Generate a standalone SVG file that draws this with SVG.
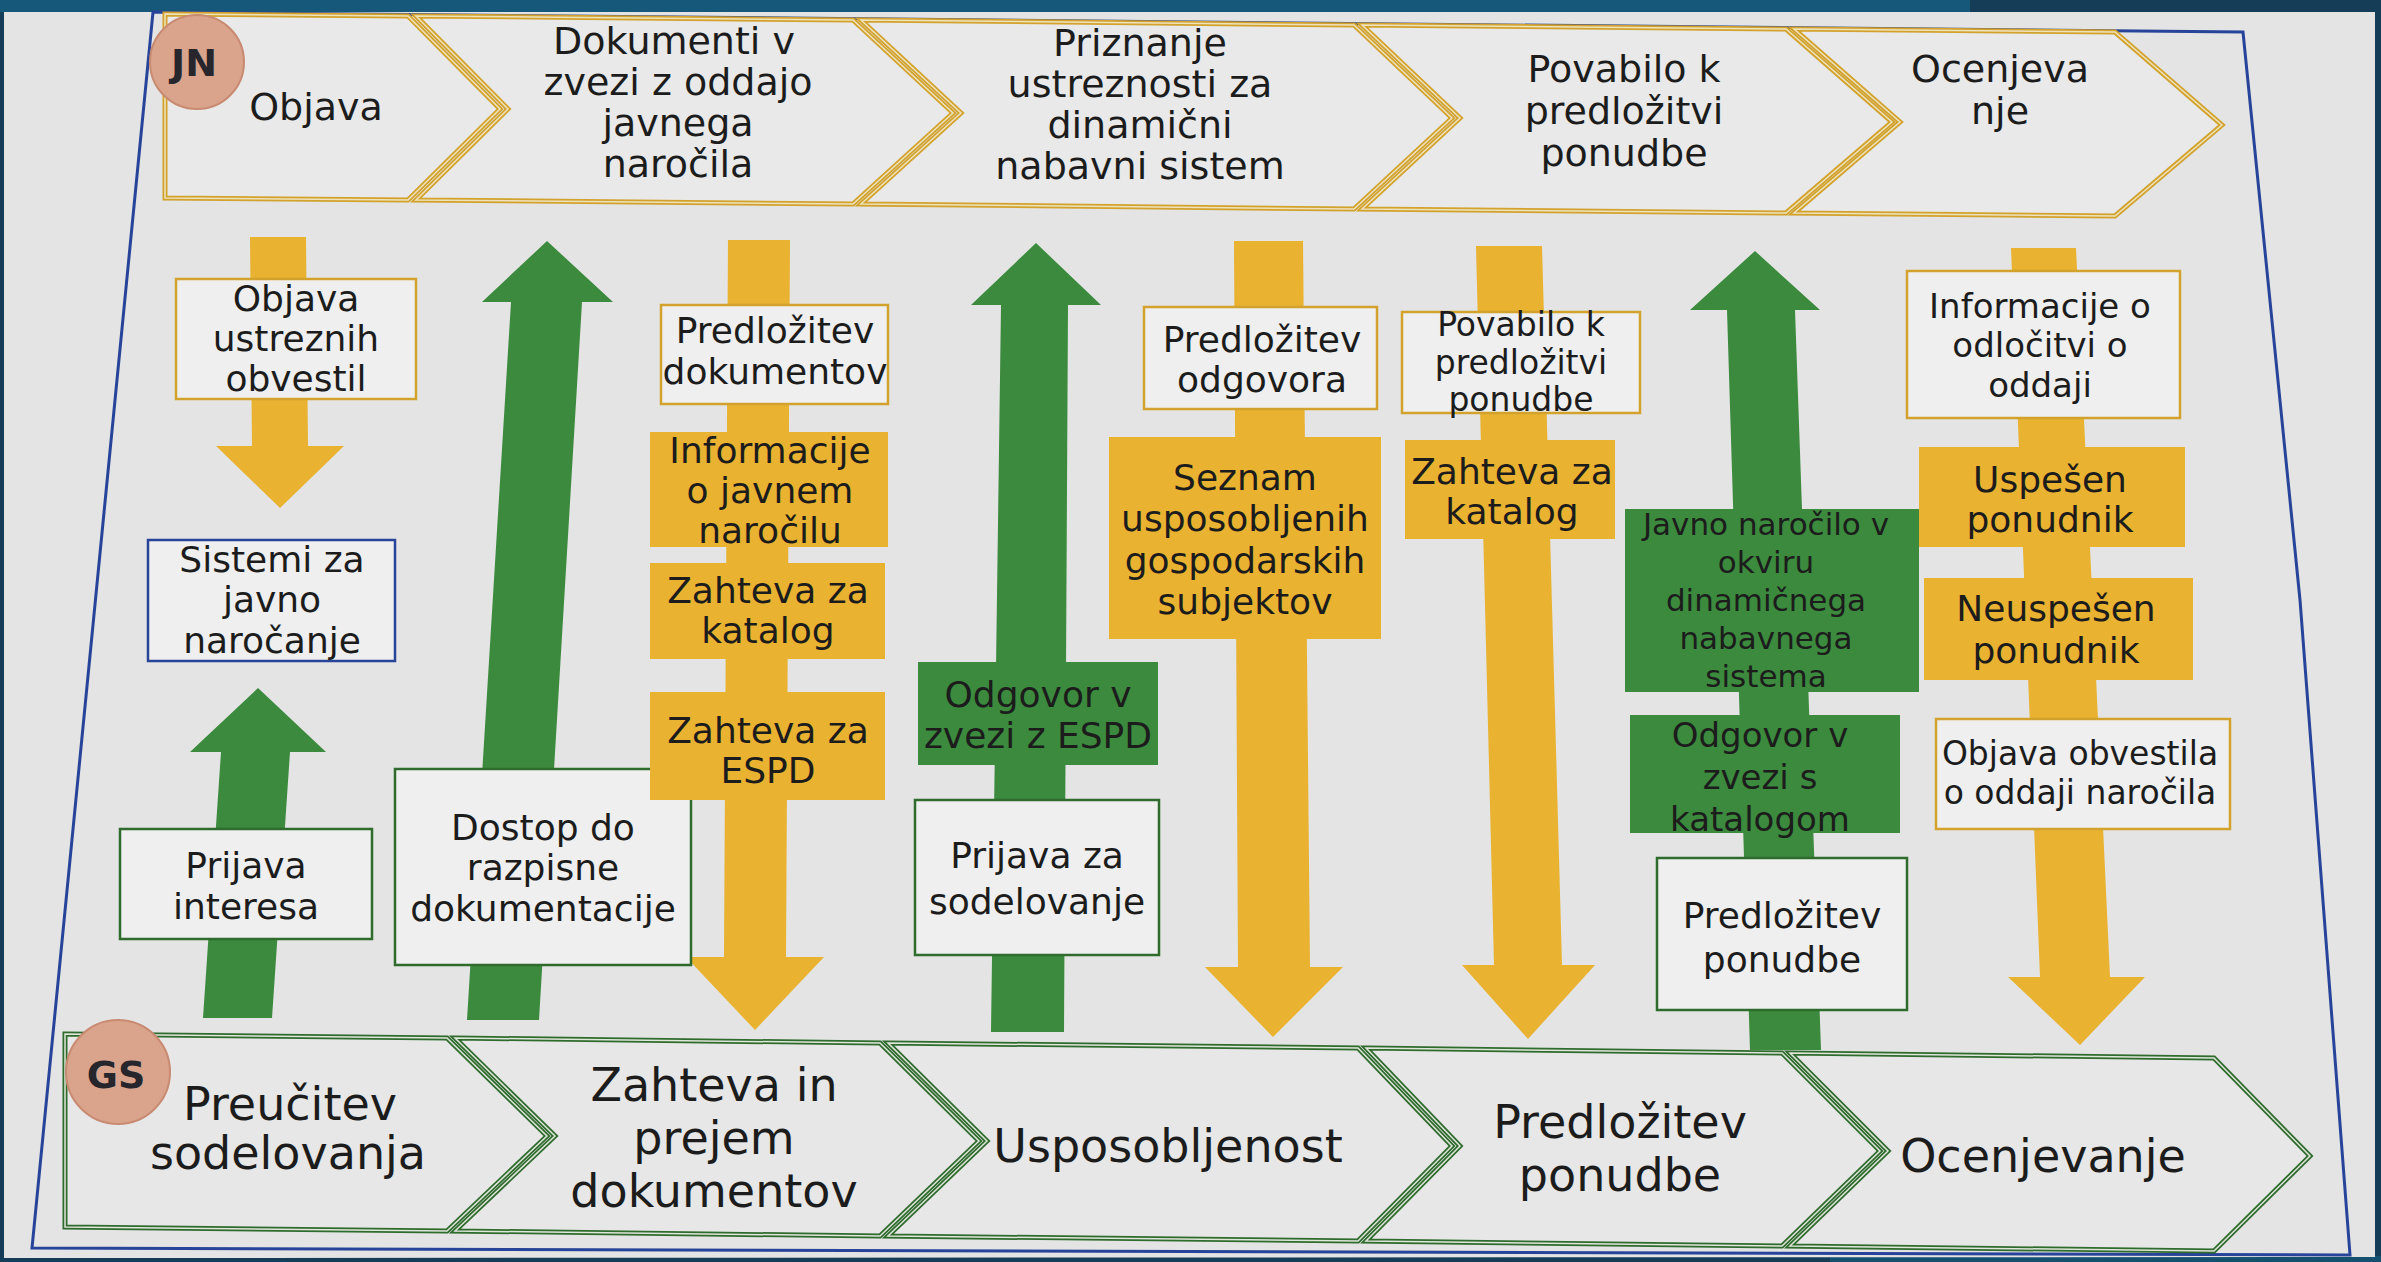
<svg xmlns="http://www.w3.org/2000/svg" width="2381" height="1262" viewBox="0 0 2381 1262">
<style>
  text { font-family: "DejaVu Sans", "Verdana", sans-serif; fill: #1c1c1c; text-anchor: middle; }
  .top { font-size: 38px; }
  .bot { font-size: 46px; }
  .b36 { font-size: 36px; }
  .b34 { font-size: 34px; }
  .b33 { font-size: 33px; }
  .b31 { font-size: 31px; }
  .circ { font-weight: bold; font-size: 38px; fill: #26262c; }
  .chevY { fill: #e8e9e8; stroke: #d2a22c; stroke-width: 5; stroke-linejoin: miter; }
  .chevYi { fill: none; stroke: #efe3bd; stroke-width: 1.5; }
  .chevG { fill: #e6e7e6; stroke: #2f6b2d; stroke-width: 5; stroke-linejoin: miter; }
  .chevGi { fill: none; stroke: #dfe6da; stroke-width: 1.5; }
  .wY { fill: #eeefee; stroke: #d2a22c; stroke-width: 2.5; }
  .wG { fill: #eeefee; stroke: #2f6b2d; stroke-width: 2.5; }
  .wB { fill: #eeefee; stroke: #27449a; stroke-width: 2.5; }
  .fY { fill: #e9b230; }
  .fG { fill: #3b8a3d; }
  .aY { fill: #e9b230; }
  .aG { fill: #3b8a3d; }
  .circle { fill: #d9a38c; stroke: #c98a72; stroke-width: 2; }
</style>

<!-- photo background / paper -->
<rect x="0" y="0" width="2381" height="1262" fill="#163d58"/>
<rect x="0" y="0" width="1970" height="12" fill="#15587a"/>
<rect x="1830" y="1256" width="551" height="6" fill="#15506e"/>
<polygon points="4,12 2375,12 2375,1257 4,1258" fill="#e3e4e3"/>
<polygon points="153,12 2243,32 2300,600 2350,1255 32,1248" fill="none" stroke="#27449a" stroke-width="3"/>

<!-- connectors: arrows -->
<g id="connectors">
  <polygon class="aY" points="250,237 306,237 308,446 344,446 280,508 216,446 252,446"/>
  <polygon class="aG" points="258,688 326,752 290,752 272,1018 203,1018 221,752 190,752"/>
  <polygon class="aG" points="547,241 613,302 582,302 539,1020 467,1020 511,302 482,302"/>
  <polygon class="aY" points="728,240 790,240 786,957 824,957 755,1030 686,957 724,957"/>
  <polygon class="aG" points="1036,243 1101,305 1068,305 1064,1032 991,1032 1001,305 971,305"/>
  <polygon class="aY" points="1234,241 1303,241 1310,967 1343,967 1273,1037 1205,967 1238,967"/>
  <polygon class="aY" points="1476,246 1542,246 1562,965 1595,965 1528,1039 1462,965 1494,965"/>
  <polygon class="aG" points="1755,251 1820,310 1795,310 1821,1050 1750,1050 1727,310 1690,310"/>
  <polygon class="aY" points="2011,248 2076,248 2110,977 2145,977 2080,1045 2008,977 2040,977"/>
</g>

<!-- JN row -->
<g id="jn-objava">
  <polygon class="chevY" points="165,14 408,16 500,109 408,200 165,198"/>
  <polygon class="chevYi" points="165,14 408,16 500,109 408,200 165,198"/>
  <text class="top" x="316" y="120">Objava</text>
</g>
<g id="jn-dokumenti">
  <polygon class="chevY" points="416,16 853,20 953,113 853,204 416,200 508,109"/>
  <polygon class="chevYi" points="416,16 853,20 953,113 853,204 416,200 508,109"/>
  <text class="top" x="674" y="54">Dokumenti  v</text>
  <text class="top" x="678" y="95">zvezi z oddajo</text>
  <text class="top" x="678" y="136">javnega</text>
  <text class="top" x="678" y="177">naročila</text>
</g>
<g id="jn-priznanje">
  <polygon class="chevY" points="861,20 1354,25 1452,118 1354,209 861,204 961,113"/>
  <polygon class="chevYi" points="861,20 1354,25 1452,118 1354,209 861,204 961,113"/>
  <text class="top" x="1140" y="56">Priznanje</text>
  <text class="top" x="1140" y="97">ustreznosti za</text>
  <text class="top" x="1140" y="138">dinamični</text>
  <text class="top" x="1140" y="179">nabavni sistem</text>
</g>
<g id="jn-povabilo">
  <polygon class="chevY" points="1362,25 1786,29 1892,122 1786,213 1362,209 1460,118"/>
  <polygon class="chevYi" points="1362,25 1786,29 1892,122 1786,213 1362,209 1460,118"/>
  <text class="top" x="1624" y="82">Povabilo k</text>
  <text class="top" x="1624" y="124">predložitvi</text>
  <text class="top" x="1624" y="166">ponudbe</text>
</g>
<g id="jn-ocenjevanje">
  <polygon class="chevY" points="1794,29 2115,32 2222,125 2115,216 1794,213 1900,122"/>
  <polygon class="chevYi" points="1794,29 2115,32 2222,125 2115,216 1794,213 1900,122"/>
  <text class="top" x="2000" y="82">Ocenjeva</text>
  <text class="top" x="2000" y="124">nje</text>
</g>
<g id="jn-badge">
  <circle class="circle" cx="197" cy="62" r="47"/>
  <text class="circ" x="194" y="76">JN</text>
</g>

<!-- GS row -->
<g id="gs-preucitev">
  <polygon class="chevG" points="65,1034 447,1038 547,1136 447,1231 65,1227"/>
  <polygon class="chevGi" points="65,1034 447,1038 547,1136 447,1231 65,1227"/>
  <text class="bot" x="290" y="1120">Preučitev</text>
  <text class="bot" x="288" y="1169">sodelovanja</text>
</g>
<g id="gs-zahteva">
  <polygon class="chevG" points="455,1038 880,1043 979,1141 880,1236 455,1231 555,1136"/>
  <polygon class="chevGi" points="455,1038 880,1043 979,1141 880,1236 455,1231 555,1136"/>
  <text class="bot" x="714" y="1101">Zahteva in</text>
  <text class="bot" x="714" y="1154">prejem</text>
  <text class="bot" x="714" y="1207">dokumentov</text>
</g>
<g id="gs-usposobljenost">
  <polygon class="chevG" points="888,1043 1358,1048 1452,1146 1358,1241 888,1236 987,1141"/>
  <polygon class="chevGi" points="888,1043 1358,1048 1452,1146 1358,1241 888,1236 987,1141"/>
  <text class="bot" x="1168" y="1162">Usposobljenost</text>
</g>
<g id="gs-predlozitev">
  <polygon class="chevG" points="1366,1048 1782,1053 1880,1151 1782,1246 1366,1241 1460,1146"/>
  <polygon class="chevGi" points="1366,1048 1782,1053 1880,1151 1782,1246 1366,1241 1460,1146"/>
  <text class="bot" x="1620" y="1138">Predložitev</text>
  <text class="bot" x="1620" y="1191">ponudbe</text>
</g>
<g id="gs-ocenjevanje">
  <polygon class="chevG" points="1790,1053 2214,1058 2310,1156 2214,1251 1790,1246 1888,1151"/>
  <polygon class="chevGi" points="1790,1053 2214,1058 2310,1156 2214,1251 1790,1246 1888,1151"/>
  <text class="bot" x="2043" y="1172">Ocenjevanje</text>
</g>
<g id="gs-badge">
  <circle class="circle" cx="118" cy="1072" r="52"/>
  <text class="circ" x="116" y="1088">GS</text>
</g>

<!-- column nodes -->
<g id="objava-obvestil">
  <rect class="wY" x="176" y="279" width="240" height="120"/>
  <text class="b36" x="296" y="311">Objava</text>
  <text class="b36" x="296" y="351">ustreznih</text>
  <text class="b36" x="296" y="391">obvestil</text>
</g>
<g id="sistemi">
  <rect class="wB" x="148" y="540" width="247" height="121"/>
  <text class="b36" x="272" y="572">Sistemi za</text>
  <text class="b36" x="272" y="612">javno</text>
  <text class="b36" x="272" y="653">naročanje</text>
</g>
<g id="prijava-interesa">
  <rect class="wG" x="120" y="829" width="252" height="110"/>
  <text class="b36" x="246" y="878">Prijava</text>
  <text class="b36" x="246" y="919">interesa</text>
</g>
<g id="dostop">
  <rect class="wG" x="395" y="769" width="296" height="196"/>
  <text class="b36" x="543" y="840">Dostop do</text>
  <text class="b36" x="543" y="880">razpisne</text>
  <text class="b36" x="543" y="921">dokumentacije</text>
</g>
<g id="predlozitev-dokumentov">
  <rect class="wY" x="661" y="305" width="227" height="99"/>
  <text class="b36" x="775" y="343">Predložitev</text>
  <text class="b36" x="775" y="384">dokumentov</text>
</g>
<g id="informacije-narocilo">
  <rect class="fY" x="650" y="432" width="238" height="115"/>
  <text class="b36" x="770" y="463">Informacije</text>
  <text class="b36" x="770" y="503">o javnem</text>
  <text class="b36" x="770" y="543">naročilu</text>
</g>
<g id="zahteva-katalog-1">
  <rect class="fY" x="650" y="563" width="235" height="96"/>
  <text class="b36" x="768" y="603">Zahteva za</text>
  <text class="b36" x="768" y="643">katalog</text>
</g>
<g id="zahteva-espd">
  <rect class="fY" x="650" y="692" width="235" height="108"/>
  <text class="b36" x="768" y="743">Zahteva za</text>
  <text class="b36" x="768" y="783">ESPD</text>
</g>
<g id="odgovor-espd">
  <rect class="fG" x="918" y="662" width="240" height="103"/>
  <text class="b36" x="1038" y="707">Odgovor v</text>
  <text class="b36" x="1038" y="748">zvezi z ESPD</text>
</g>
<g id="prijava-sodelovanje">
  <rect class="wG" x="915" y="800" width="244" height="155"/>
  <text class="b36" x="1037" y="868">Prijava za</text>
  <text class="b36" x="1037" y="914">sodelovanje</text>
</g>
<g id="predlozitev-odgovora">
  <rect class="wY" x="1144" y="307" width="233" height="102"/>
  <text class="b36" x="1262" y="352">Predložitev</text>
  <text class="b36" x="1262" y="392">odgovora</text>
</g>
<g id="seznam">
  <rect class="fY" x="1109" y="437" width="272" height="202"/>
  <text class="b36" x="1245" y="490">Seznam</text>
  <text class="b36" x="1245" y="531">usposobljenih</text>
  <text class="b36" x="1245" y="573">gospodarskih</text>
  <text class="b36" x="1245" y="614">subjektov</text>
</g>
<g id="povabilo-box">
  <rect class="wY" x="1402" y="312" width="238" height="101"/>
  <text class="b33" x="1521" y="336">Povabilo k</text>
  <text class="b33" x="1521" y="374">predložitvi</text>
  <text class="b33" x="1521" y="411">ponudbe</text>
</g>
<g id="zahteva-katalog-2">
  <rect class="fY" x="1405" y="440" width="210" height="99"/>
  <text class="b36" x="1512" y="484">Zahteva za</text>
  <text class="b36" x="1512" y="524">katalog</text>
</g>
<g id="javno-narocilo-dns">
  <rect class="fG" x="1625" y="509" width="294" height="183"/>
  <text class="b31" x="1766" y="535">Javno naročilo v</text>
  <text class="b31" x="1766" y="573">okviru</text>
  <text class="b31" x="1766" y="611">dinamičnega</text>
  <text class="b31" x="1766" y="649">nabavnega</text>
  <text class="b31" x="1766" y="687">sistema</text>
</g>
<g id="odgovor-katalog">
  <rect class="fG" x="1630" y="715" width="270" height="118"/>
  <text class="b34" x="1760" y="747">Odgovor v</text>
  <text class="b34" x="1760" y="789">zvezi s</text>
  <text class="b34" x="1760" y="831">katalogom</text>
</g>
<g id="predlozitev-ponudbe">
  <rect class="wG" x="1657" y="858" width="250" height="152"/>
  <text class="b36" x="1782" y="928">Predložitev</text>
  <text class="b36" x="1782" y="972">ponudbe</text>
</g>
<g id="informacije-odlocitev">
  <rect class="wY" x="1907" y="271" width="273" height="147"/>
  <text class="b34" x="2040" y="318">Informacije o</text>
  <text class="b34" x="2040" y="357">odločitvi o</text>
  <text class="b34" x="2040" y="397">oddaji</text>
</g>
<g id="uspesen">
  <rect class="fY" x="1919" y="447" width="266" height="100"/>
  <text class="b36" x="2050" y="492">Uspešen</text>
  <text class="b36" x="2050" y="532">ponudnik</text>
</g>
<g id="neuspesen">
  <rect class="fY" x="1924" y="578" width="269" height="102"/>
  <text class="b36" x="2056" y="621">Neuspešen</text>
  <text class="b36" x="2056" y="663">ponudnik</text>
</g>
<g id="objava-oddaja">
  <rect class="wY" x="1936" y="719" width="294" height="110"/>
  <text class="b33" x="2080" y="765">Objava obvestila</text>
  <text class="b33" x="2080" y="804">o oddaji naročila</text>
</g>
</svg>
